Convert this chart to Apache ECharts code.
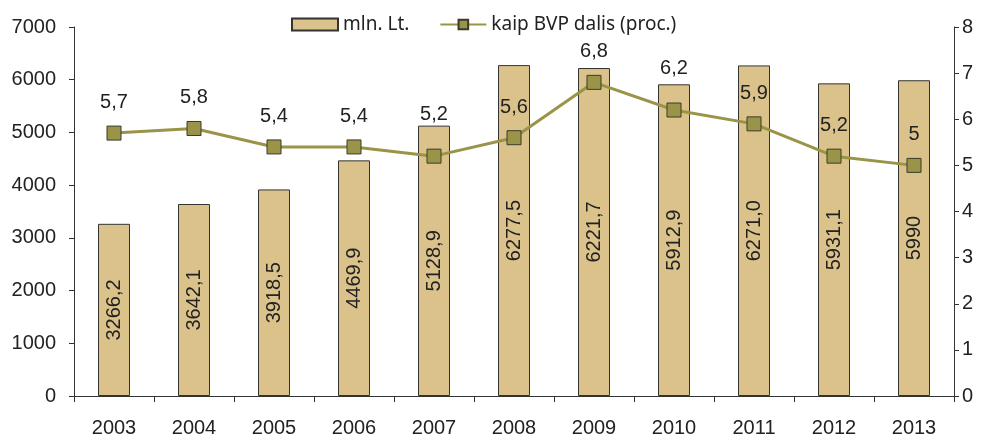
<!DOCTYPE html>
<html>
<head>
<meta charset="utf-8">
<script src="https://cdn.jsdelivr.net/npm/echarts@6/dist/echarts.min.js"></script>
<style>
  html, body { margin: 0; padding: 0; background: #fff; }
  #chart { width: 984px; height: 439px; }
</style>
</head>
<body>
<div id="chart"></div>
<script>
// years on the x axis
var years = ['2003', '2004', '2005', '2006', '2007', '2008', '2009', '2010', '2011', '2012', '2013'];
// mln. Lt. (bars)
var mlnLt = [3266.2, 3642.1, 3918.5, 4469.9, 5128.9, 6277.5, 6221.7, 5912.9, 6271.0, 5931.1, 5990];
var mlnLtLabels = ['3266,2', '3642,1', '3918,5', '4469,9', '5128,9', '6277,5', '6221,7', '5912,9', '6271,0', '5931,1', '5990'];
// kaip BVP dalis (proc.) (line)
var bvpShare = [5.7, 5.8, 5.4, 5.4, 5.2, 5.6, 6.8, 6.2, 5.9, 5.2, 5];
var bvpLabels = ['5,7', '5,8', '5,4', '5,4', '5,2', '5,6', '6,8', '6,2', '5,9', '5,2', '5'];

var chart = echarts.init(document.getElementById('chart'));

var axisText = { fontFamily: 'Liberation Sans', fontSize: 20, color: '#222' };
var axisLine = { show: true, lineStyle: { color: '#333', width: 1 } };

// labels that sit on a bar top get lifted a bit, like in the original
var lineData = bvpShare.map(function (v, i) {
  if (i === 4 || i === 7) return { value: v, label: { distance: 24 } };
  return v;
});

var option = {
  animation: false,
  backgroundColor: '#fff',
  textStyle: { fontFamily: 'Liberation Sans' },
  legend: {
    top: 10,
    left: 286,
    itemGap: 30,
    itemWidth: 46,
    itemHeight: 12,
    textStyle: { fontFamily: 'Noto Sans', fontSize: 19, color: '#222' },
    data: [
      { name: 'mln. Lt.', icon: 'rect' },
      { name: 'kaip BVP dalis (proc.)' }
    ]
  },
  grid: { left: 74, right: 30, top: 27, bottom: 43 },
  xAxis: {
    type: 'category',
    data: years,
    axisLine: axisLine,
    axisTick: { show: true, length: 6, lineStyle: { color: '#333' } },
    axisLabel: Object.assign({ margin: 22 }, axisText)
  },
  yAxis: [
    {
      type: 'value',
      min: 0, max: 7000, interval: 1000,
      axisLine: axisLine,
      axisTick: { show: true, length: 5, lineStyle: { color: '#333' } },
      splitLine: { show: false },
      axisLabel: Object.assign({ margin: 18, formatter: function (v) { return String(v); } }, axisText)
    },
    {
      type: 'value',
      min: 0, max: 8, interval: 1,
      axisLine: axisLine,
      axisTick: { show: true, length: 5, lineStyle: { color: '#333' } },
      splitLine: { show: false },
      axisLabel: Object.assign({ margin: 8 }, axisText)
    }
  ],
  series: [
    {
      name: 'mln. Lt.',
      type: 'bar',
      data: mlnLt,
      barWidth: 32,
      itemStyle: { color: '#dbc28b', borderColor: '#333', borderWidth: 1 },
      label: {
        show: true,
        position: 'inside',
        rotate: 90,
        fontFamily: 'Liberation Sans',
        fontSize: 20,
        color: '#222',
        formatter: function (p) { return mlnLtLabels[p.dataIndex]; }
      },
      z: 2
    },
    {
      name: 'kaip BVP dalis (proc.)',
      type: 'line',
      yAxisIndex: 1,
      data: lineData,
      symbol: 'rect',
      symbolSize: 14,
      lineStyle: { color: '#9a9448', width: 3 },
      itemStyle: { color: '#9a9448', borderColor: '#3a3a28', borderWidth: 1 },
      label: {
        show: true,
        position: 'top',
        distance: 13,
        fontFamily: 'Liberation Sans',
        fontSize: 20,
        color: '#222',
        formatter: function (p) { return bvpLabels[p.dataIndex]; }
      },
      z: 3
    }
  ]
};

chart.setOption(option);
</script>
</body>
</html>
